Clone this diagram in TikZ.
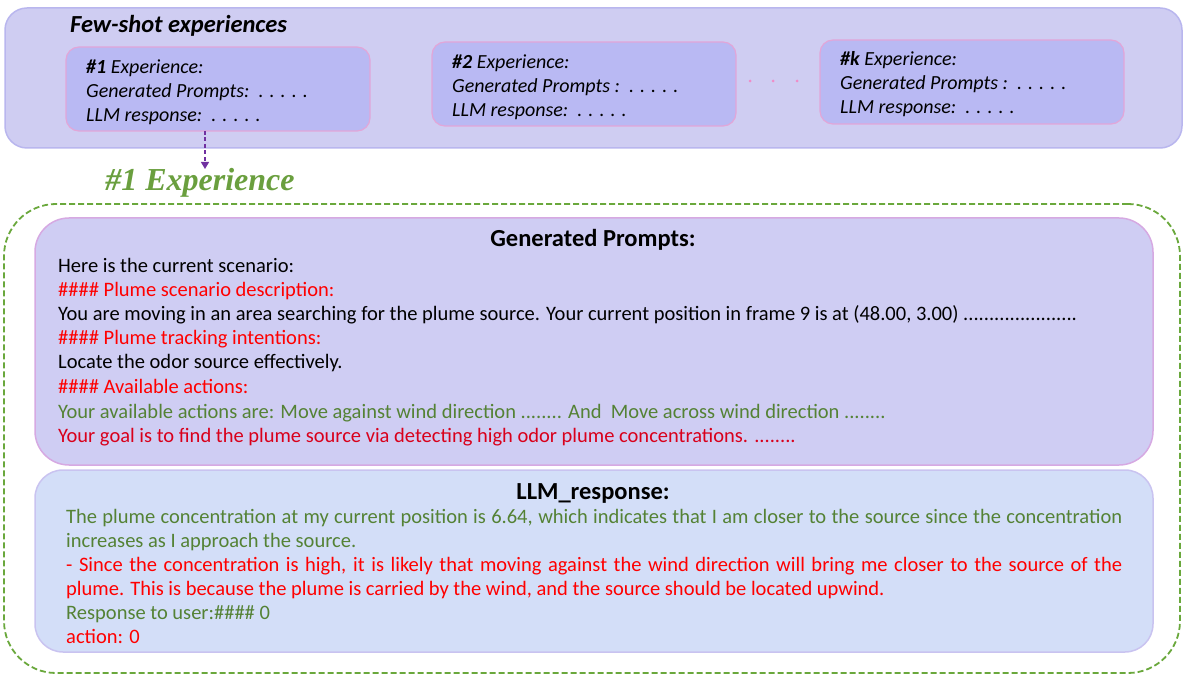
\documentclass[tikz,border=0pt]{standalone}
\usepackage{fontspec}
\setmainfont{Carlito}
\newfontfamily\serifbi{Liberation Serif}
\usetikzlibrary{arrows.meta}
\definecolor{outerfill}{HTML}{CFCDF2}
\definecolor{outerdraw}{HTML}{B9B6EE}
\definecolor{expfill}{HTML}{B9B9F3}
\definecolor{expdraw}{HTML}{E2A6D8}
\definecolor{genfill}{HTML}{CFCDF3}
\definecolor{gendraw}{HTML}{D6A9E2}
\definecolor{llmfill}{HTML}{D3DEF8}
\definecolor{llmdraw}{HTML}{C9C3F0}
\definecolor{txtgreen}{HTML}{548235}
\definecolor{txtred}{HTML}{FF0000}
\definecolor{goalred}{HTML}{D9001B}
\definecolor{dashgreen}{HTML}{6AA83C}
\definecolor{titlegreen}{HTML}{6A9F3E}
\definecolor{arrowpurple}{HTML}{7030A0}
\definecolor{dotpink}{HTML}{F08CC8}
\begin{document}
\begin{tikzpicture}[x=1pt,y=-1pt,
  panel/.style={draw, anchor=north west, inner sep=0pt, outer sep=0pt},
  outerbox/.style={panel, fill=outerfill, draw=outerdraw, line width=1.5pt, rounded corners=22pt},
  expbox/.style={panel, fill=expfill, draw=expdraw, line width=1.2pt, rounded corners=13pt, minimum width=304pt, minimum height=84pt},
  genbox/.style={panel, fill=genfill, draw=gendraw, line width=1.5pt, rounded corners=34pt},
  llmbox/.style={panel, fill=llmfill, draw=llmdraw, line width=1.5pt, rounded corners=28pt},
  frame/.style={panel, draw=dashgreen, line width=1.8pt, dash pattern=on 6pt off 3pt, rounded corners=52pt},
  exptxt/.style={anchor=base west, inner sep=0pt, font=\fontsize{20}{24}\selectfont\itshape},
  body/.style={anchor=base west, inner sep=0pt, font=\fontsize{20.5}{24}\selectfont},
  head/.style={anchor=base, inner sep=0pt, font=\fontsize{24.5}{28}\selectfont\bfseries},
  pinkdot/.style={circle, fill=dotpink, inner sep=0pt, minimum size=3pt}
]
\useasboundingbox (0,0) rectangle (1184,676);

% few-shot area
\node[outerbox, minimum width=1177pt, minimum height=140pt] (top) at (5,8) {};
\node[anchor=base west, inner sep=0pt, font=\fontsize{24.5}{28}\selectfont\bfseries\itshape] (fs) at (70,33) {Few-shot experiences};

\node[expbox] (e1) at (66,47) {};
\node[exptxt] (e1a) at (86,74) {\textbf{\#1} Experience:};
\node[exptxt] (e1b) at (86,98) {Generated Prompts:\ \ . . . . .};
\node[exptxt] (e1c) at (86,122) {LLM response:\ \ . . . . .};

\node[expbox] (e2) at (432,42) {};
\node[exptxt] (e2a) at (452,69) {\textbf{\#2} Experience:};
\node[exptxt] (e2b) at (452,93) {Generated Prompts :\ \ . . . . .};
\node[exptxt] (e2c) at (452,117) {LLM response:\ \ . . . . .};

\node[expbox] (ek) at (820,40) {};
\node[exptxt] (eka) at (840,66) {\textbf{\#k} Experience:};
\node[exptxt] (ekb) at (840,90) {Generated Prompts :\ \ . . . . .};
\node[exptxt] (ekc) at (840,114) {LLM response:\ \ . . . . .};

\node[pinkdot] (d1) at (750,81) {};
\node[pinkdot] (d2) at (773,81) {};
\node[pinkdot] (d3) at (797,81) {};

% #1 Experience title
\node[anchor=center, inner sep=0pt, text=titlegreen, font=\serifbi\fontsize{32}{36}\selectfont\bfseries\itshape] (ttl) at (200,183) {\#1 Experience};
\draw[arrowpurple, line width=1.4pt, dash pattern=on 4pt off 2.5pt, -{Triangle[length=7pt,width=8pt]}]
  ([xshift=-13pt]e1.south) -- ([xshift=-13pt]e1.south |- 0,169) coordinate (arrtip);

% dashed frame
\node[frame, minimum width=1176pt, minimum height=469pt] (fr) at (4,204) {};

% Generated prompts
\node[genbox, minimum width=1118pt, minimum height=247pt] (gen) at (35,218) {};
\node[head] (genh) at (593,247) {Generated Prompts:};
\node[body] (g1) at (58,273) {Here is the current scenario:};
\node[body, text=txtred] (g2) at (58,297) {\#\#\#\# Plume scenario description:};
\node[body] (g3) at (58,321) {You are moving in an area searching for the plume source. Your current position in frame 9 is at (48.00, 3.00) ......................};
\node[body, text=txtred] (g4) at (58,345) {\#\#\#\# Plume tracking intentions:};
\node[body] (g5) at (58,369) {Locate the odor source effectively.};
\node[body, text=txtred] (g6) at (58,394) {\#\#\#\# Available actions:};
\node[body, text=txtgreen] (g7) at (58,418) {Your available actions are: Move against wind direction ........ And\ \ Move across wind direction ........};
\node[body, text=goalred] (g8) at (58,442) {Your goal is to find the plume source via detecting high odor plume concentrations. ........};

% LLM response
\node[llmbox, minimum width=1118pt, minimum height=182pt] (llm) at (35,470) {};
\node[head] (llmh) at (593,499) {LLM\_response:};
\node[body, text=txtgreen] (l1) at (66,523) {\makebox[1056pt][s]{The plume concentration at my current position is 6.64, which indicates that I am closer to the source since the concentration}};
\node[body, text=txtgreen] (l2) at (66,547) {increases as I approach the source.};
\node[body, text=txtred] (l3) at (66,571) {\makebox[1056pt][s]{- Since the concentration is high, it is likely that moving against the wind direction will bring me closer to the source of the}};
\node[body, text=txtred] (l4) at (66,595) {plume. This is because the plume is carried by the wind, and the source should be located upwind.};
\node[body, text=txtgreen] (l5) at (66,619) {Response to user:\#\#\#\# 0};
\node[body, text=txtred] (l6) at (66,643) {action: 0};
\end{tikzpicture}
\end{document}
